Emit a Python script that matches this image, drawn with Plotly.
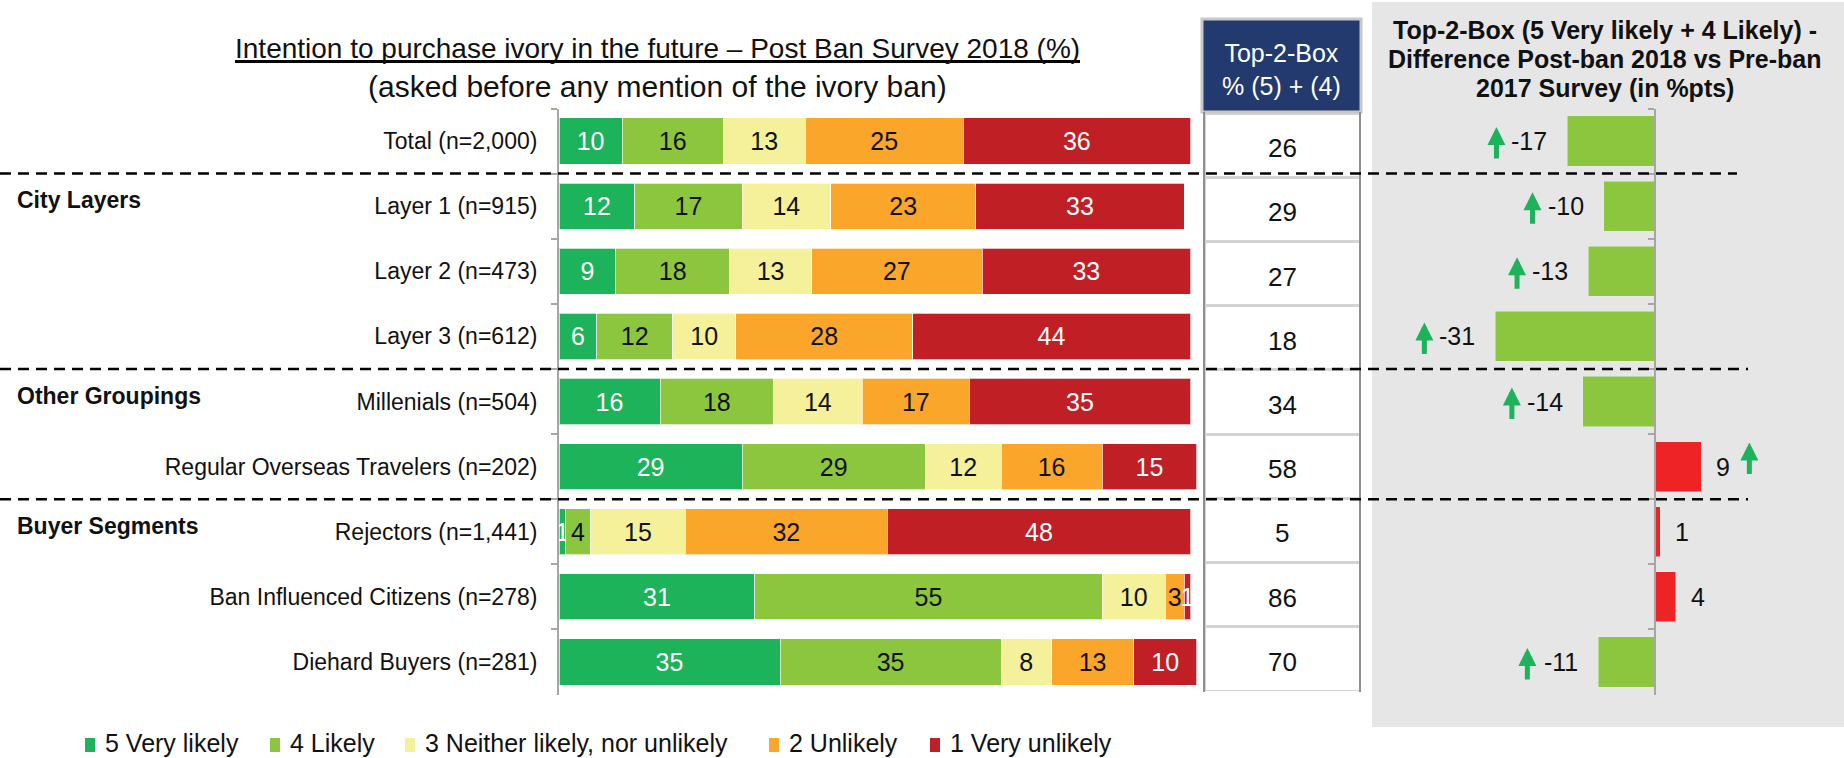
import plotly.graph_objects as go

# ---------------- data ----------------
categories = ["Total (n=2,000)", "Layer 1 (n=915)", "Layer 2 (n=473)", "Layer 3 (n=612)",
              "Millenials (n=504)", "Regular Overseas Travelers (n=202)", "Rejectors (n=1,441)",
              "Ban Influenced Citizens (n=278)", "Diehard Buyers (n=281)"]
series_names = ["5 Very likely", "4 Likely", "3 Neither likely, nor unlikely", "2 Unlikely", "1 Very unlikely"]
very_likely = [10, 12, 9, 6, 16, 29, 1, 31, 35]
likely = [16, 17, 18, 12, 18, 29, 4, 55, 35]
neither = [13, 14, 13, 10, 14, 12, 15, 10, 8]
unlikely = [25, 23, 27, 28, 17, 16, 32, 3, 13]
very_unlikely = [36, 33, 33, 44, 35, 15, 48, 1, 10]
top2_box = [26, 29, 27, 18, 34, 58, 5, 86, 70]
diff_vs_2017 = [-17, -10, -13, -31, -14, 9, 1, 4, -11]
has_up_arrow = [True, True, True, True, True, True, False, False, True]
group_labels = ["City Layers", "Other Groupings", "Buyer Segments"]
group_rows = ["Layer 1 (n=915)", "Millenials (n=504)", "Rejectors (n=1,441)"]
separator_after = ["Total (n=2,000)", "Layer 3 (n=612)", "Regular Overseas Travelers (n=202)"]

# ---------------- style ----------------
W, H = 1844, 758
FONT = "Liberation Sans, Arial, sans-serif"
series_colors = ["#1db35a", "#8cc63f", "#f5f09a", "#f9a62b", "#c01f26"]
text_colors = ["white", "#111111", "#111111", "#111111", "white"]
AX_GRAY = "#a6a6a6"
legend_icon_left = [85, 270, 405, 769, 930]   # pixel layout of the legend entries


def px(x):
    return x / W


def py(y):
    return 1 - y / H


fig = go.Figure()

series_values = [very_likely, likely, neither, unlikely, very_unlikely]
for name, vals, col, tcol in zip(series_names, series_values, series_colors, text_colors):
    fig.add_trace(go.Bar(
        name=name, x=vals, y=categories, orientation="h", width=0.71,
        marker=dict(color=col, line=dict(color="rgba(255,255,255,0.7)", width=1)),
        text=vals, texttemplate="%{x}", textposition="inside", insidetextanchor="middle",
        textangle=0, constraintext="none", cliponaxis=False,
        textfont=dict(color=tcol, size=25, family=FONT),
        xaxis="x", yaxis="y", hoverinfo="skip", showlegend=False,
    ))

# Top-2-box column cells
fig.add_trace(go.Bar(
    x=[1] * len(categories), y=categories, orientation="h", width=1, base=0,
    marker=dict(color="white", line=dict(color="#d3d3d3", width=3)),
    xaxis="x2", yaxis="y2", showlegend=False, hoverinfo="skip",
))

# Difference panel
fig.add_trace(go.Bar(
    x=diff_vs_2017, y=categories, orientation="h", width=0.77,
    marker=dict(color=["#8cc63f" if v < 0 else "#ee2326" for v in diff_vs_2017]),
    xaxis="x3", yaxis="y3", showlegend=False, hoverinfo="skip",
))

# ---------------- axes ----------------
left_range = [0, 101.6]
left_dom = [px(559), px(559 + 101.6 * 6.315)]
right_range = [-283 / 5.15, 189 / 5.15]
right_dom = [px(1372), 1.0]
zero_pos = right_dom[0] + (0 - right_range[0]) / (right_range[1] - right_range[0]) * (right_dom[1] - right_dom[0])
rows_dom = [py(694.5), py(108.5)]

common_y = dict(type="category", categoryorder="array", categoryarray=categories,
                autorange="reversed", showgrid=False, zeroline=False)

fig.update_layout(
    width=W, height=H, margin=dict(l=0, r=0, t=0, b=0),
    paper_bgcolor="white", plot_bgcolor="rgba(0,0,0,0)",
    barmode="stack", showlegend=False,
    font=dict(family=FONT, color="#111111"),
    xaxis=dict(domain=left_dom, range=left_range, visible=False),
    yaxis=dict(domain=rows_dom, showline=True, linecolor=AX_GRAY, linewidth=2,
               ticks="outside", tickson="boundaries", ticklen=6, tickcolor=AX_GRAY, tickwidth=2,
               ticklabelstandoff=15, tickfont=dict(size=23, color="#111111", family=FONT), **common_y),
    xaxis2=dict(domain=[px(1204), px(1360)], range=[0, 1], visible=False, anchor="y2"),
    yaxis2=dict(domain=[py(691), py(113)], visible=False, anchor="x2", **common_y),
    xaxis3=dict(domain=right_dom, range=right_range, visible=False, anchor="y3"),
    yaxis3=dict(domain=rows_dom, anchor="free", position=zero_pos, showline=True, linecolor=AX_GRAY,
                linewidth=2, ticks="outside", tickson="boundaries", ticklen=6, tickcolor=AX_GRAY,
                tickwidth=2, showticklabels=False, **common_y),
)

# ---------------- shapes ----------------
shapes = []
# grey panel
shapes.append(dict(type="rect", xref="paper", yref="paper", x0=px(1372), x1=1, y0=py(727), y1=py(2),
                   fillcolor="#e6e6e6", line=dict(width=0), layer="below"))
# header of top-2-box column
shapes.append(dict(type="rect", xref="paper", yref="paper", x0=px(1202), x1=px(1361), y0=py(112), y1=py(19),
                   fillcolor="#233a6e", line=dict(color="#c8c8c8", width=3)))
# column side borders
for xb in (1204, 1360):
    shapes.append(dict(type="line", xref="paper", yref="paper", x0=px(xb), x1=px(xb), y0=py(692), y1=py(112),
                       line=dict(color="#8f8f8f", width=2)))
# title underline
shapes.append(dict(type="line", xref="paper", yref="paper", x0=px(235), x1=px(1080), y0=py(61.5), y1=py(61.5),
                   line=dict(color="black", width=3)))
# dashed separators
idx = {c: i for i, c in enumerate(categories)}
for c, xend in zip(separator_after, [1737, 1748, 1748]):
    yb = idx[c] + 0.5
    shapes.append(dict(type="line", xref="paper", yref="y", x0=0, x1=px(xend), y0=yb, y1=yb,
                       line=dict(color="black", width=2.5, dash="11px,7px")))
# legend icons
for xl, col in zip(legend_icon_left, series_colors):
    shapes.append(dict(type="rect", xref="paper", yref="paper", x0=px(xl), x1=px(xl + 10),
                       y0=py(752), y1=py(738), fillcolor=col, line=dict(width=0)))
fig.update_layout(shapes=shapes)

# ---------------- annotations ----------------
ann = []
ann.append(dict(xref="paper", yref="paper", x=px(657), y=py(48), xanchor="center", yanchor="middle",
                text="Intention to purchase ivory in the future \u2013 Post Ban Survey 2018 (%)",
                showarrow=False, font=dict(size=28, color="#111111")))
ann.append(dict(xref="paper", yref="paper", x=px(657), y=py(86), xanchor="center", yanchor="middle",
                text="(asked before any mention of the ivory ban)", showarrow=False,
                font=dict(size=30, color="#111111")))
ann.append(dict(xref="paper", yref="paper", x=px(1281.5), y=py(70), xanchor="center", yanchor="middle",
                text="Top-2-Box<br>% (5) + (4)", showarrow=False, font=dict(size=25, color="white")))
for t, yy in zip(["Top-2-Box (5 Very likely + 4 Likely) -", "Difference Post-ban 2018 vs Pre-ban",
                  "2017 Survey (in %pts)"], [30, 59, 88]):
    ann.append(dict(xref="paper", yref="paper", x=px(1605), y=py(yy), xanchor="center", yanchor="middle",
                    text="<b>" + t + "</b>", showarrow=False, font=dict(size=25, color="#111111")))
for g, r in zip(group_labels, group_rows):
    ann.append(dict(xref="paper", yref="y", x=px(15), y=r, xanchor="left", yanchor="middle", yshift=6,
                    text="<b>" + g + "</b>", showarrow=False, font=dict(size=23, color="#111111")))
# legend labels
for xl, name in zip(legend_icon_left, series_names):
    ann.append(dict(xref="paper", yref="paper", x=px(xl + 18), y=py(743), xanchor="left", yanchor="middle",
                    text=name, showarrow=False, font=dict(size=25, color="#111111")))
# top-2-box values
for c, v in zip(categories, top2_box):
    ann.append(dict(xref="x2", yref="y2", x=0.5, y=c, xanchor="center", yanchor="middle", yshift=-3,
                    text=str(v), showarrow=False, font=dict(size=26, color="#111111")))
# difference labels and arrows
for c, v, arr in zip(categories, diff_vs_2017, has_up_arrow):
    neg = v < 0
    ann.append(dict(xref="x3", yref="y3", x=v, y=c, xanchor="right" if neg else "left", yanchor="middle",
                    xshift=-18 if neg else 13, text=str(v), showarrow=False,
                    font=dict(size=25, color="#111111")))
    if arr:
        ann.append(dict(xref="x3", yref="y3", x=v, y=c, xshift=-71 if neg else 48, yshift=14 if neg else 24,
                        text="", showarrow=True, ax=0, ay=33, axref="pixel", ayref="pixel",
                        arrowhead=2, arrowsize=0.72, arrowwidth=5, arrowcolor="#1db35a", standoff=0))
fig.update_layout(annotations=ann)

fig.write_html("out.html", config={"displayModeBar": False},
               post_script="document.body.style.margin='0px';document.body.style.overflow='hidden';")
